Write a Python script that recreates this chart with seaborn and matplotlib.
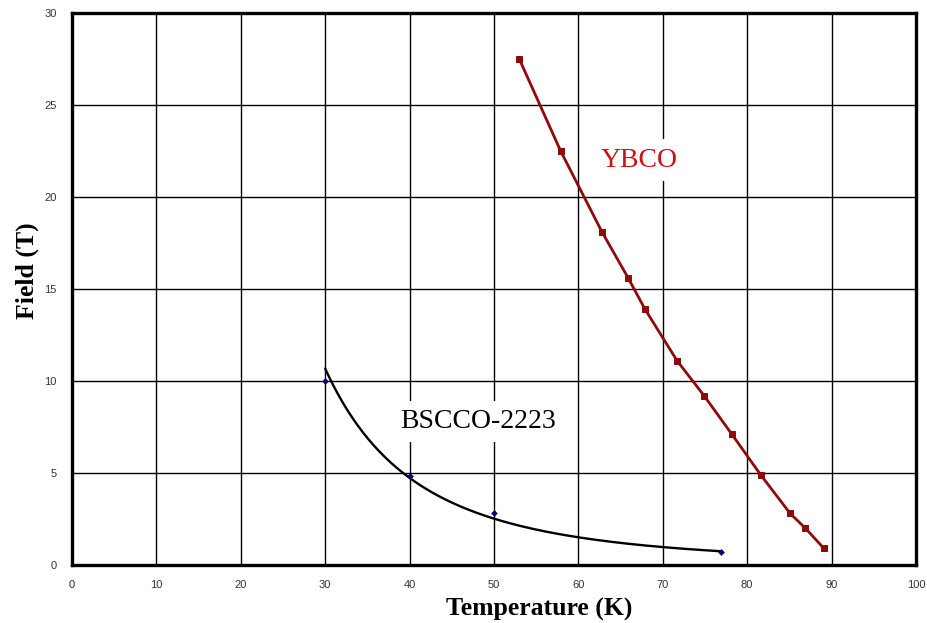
import numpy as np
import pandas as pd
import seaborn as sns
import matplotlib.pyplot as plt

# YBCO irreversibility field vs temperature
ybco_t = [53.0, 57.9, 62.8, 65.9, 67.9, 71.7, 74.9, 78.2, 81.6, 85.1, 86.9, 89.1]
ybco_b = [27.5, 22.5, 18.1, 15.6, 13.9, 11.1, 9.2, 7.1, 4.9, 2.8, 2.0, 0.9]

# BSCCO-2223 measured points
bscco_t = [30.0, 40.0, 50.0, 76.9]
bscco_b = [10.0, 4.85, 2.8, 0.7]

x_ticks = [0, 10, 20, 30, 40, 50, 60, 70, 80, 90, 100]
y_ticks = [0, 5, 10, 15, 20, 25, 30]

ybco = pd.DataFrame({'T': ybco_t, 'B': ybco_b})
bscco = pd.DataFrame({'T': bscco_t, 'B': bscco_b})

# power-law trendline through the BSCCO points (like a spreadsheet trendline)
slope, icpt = np.polyfit(np.log(bscco['T']), np.log(bscco['B']), 1)
fit_t = np.linspace(bscco['T'].min(), bscco['T'].max(), 200)
fit = pd.DataFrame({'T': fit_t, 'B': np.exp(icpt) * fit_t ** slope})

sns.set_style('white')
fig = plt.figure(figsize=(9.28, 6.23), dpi=100)
ax = fig.add_axes([0.0776, 0.0931, 0.9094, 0.886])

sns.lineplot(data=fit, x='T', y='B', color='black', linewidth=1.7, ax=ax, zorder=3)
sns.scatterplot(data=bscco, x='T', y='B', marker='D', s=10, color='#00007a', edgecolor='#00007a', ax=ax, zorder=4)
sns.lineplot(data=ybco, x='T', y='B', color='#8f0a0a', linewidth=2.0, marker='s', markersize=5,
             markeredgecolor='#8f0a0a', ax=ax, zorder=5)

ax.text(67.2, 22.0, 'YBCO', color='#d01010', fontsize=20, family='Liberation Serif',
        ha='center', va='center', zorder=2, bbox=dict(facecolor='white', edgecolor='none', pad=6))
ax.text(48.1, 7.8, 'BSCCO-2223', color='black', fontsize=20, family='Liberation Serif',
        ha='center', va='center', zorder=2, bbox=dict(facecolor='white', edgecolor='none', pad=6))

ax.set_xlim(0, 100)
ax.set_ylim(0, 30)
ax.set_xticks(x_ticks)
ax.set_yticks(y_ticks)
ax.grid(True, color='black', linewidth=1)
ax.set_axisbelow(True)
for s in ax.spines.values():
    s.set_visible(True)
    s.set_color('black')
    s.set_linewidth(2.4)
ax.tick_params(direction='out', length=5, width=1, color='black', labelsize=8,
               labelcolor='#333333', labelfontfamily='Liberation Sans', pad=6)

ax.set_xlabel('Temperature (K)', fontsize=18.5, fontweight='bold', family='Liberation Serif',
              va='center', color='black')
ax.set_ylabel('Field (T)', fontsize=18.5, fontweight='bold', family='Liberation Serif',
              va='center', color='black')
ax.xaxis.set_label_coords(0.553, -0.08)
ax.yaxis.set_label_coords(-0.053, 0.533)

fig.savefig('out.png', dpi=100)
